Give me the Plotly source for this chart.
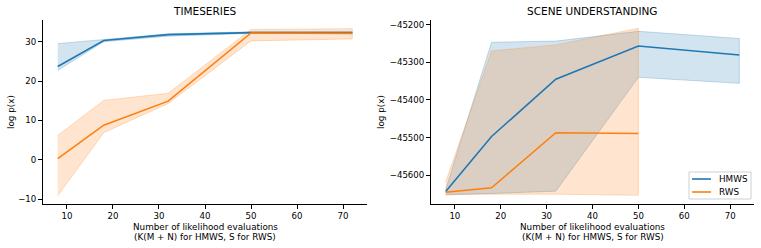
import plotly.graph_objects as go

# ---- data ----
ts_x_hmws = [8, 18, 32, 50, 72]
ts_hmws_mean = [23.7, 30.3, 31.8, 32.3, 32.3]
ts_hmws_lo = [22.7, 30.0, 31.4, 32.1, 32.1]
ts_hmws_hi = [29.5, 30.6, 32.0, 32.5, 32.5]

ts_x_rws = [8, 18, 32, 50, 72]
ts_rws_mean = [0.3, 8.8, 14.9, 32.2, 32.1]
ts_rws_lo = [-9.1, 6.9, 14.3, 30.2, 30.7]
ts_rws_hi = [6.2, 15.1, 16.9, 33.1, 33.3]

su_x_hmws = [8, 18, 32, 50, 72]
su_hmws_mean = [-45643, -45497, -45345, -45257, -45281]
su_hmws_lo = [-45652, -45648, -45642, -45340, -45356]
su_hmws_hi = [-45638, -45247, -45244, -45218, -45237]

su_x_rws = [8, 18, 32, 50]
su_rws_mean = [-45645, -45633, -45487, -45489]
su_rws_lo = [-45650, -45650, -45650, -45653]
su_rws_hi = [-45617, -45270, -45254, -45210]

x_ticks = [10, 20, 30, 40, 50, 60, 70]
x_tick_labels = ["10", "20", "30", "40", "50", "60", "70"]
ts_y_ticks = [-10, 0, 10, 20, 30]
ts_y_tick_labels = ["\u221210", "0", "10", "20", "30"]
su_y_ticks = [-45600, -45500, -45400, -45300, -45200]
su_y_tick_labels = ["\u221245600", "\u221245500", "\u221245400", "\u221245300", "\u221245200"]

series_names = ["HMWS", "RWS"]
titles = ["TIMESERIES", "SCENE UNDERSTANDING"]
x_title_lines = ["Number of likelihood evaluations", "(K(M + N) for HMWS, S for RWS)"]
y_title = "log p(x)"

BLUE = "#1f77b4"
ORANGE = "#ff7f0e"
BLUE_F = "rgba(31,119,180,0.2)"
ORANGE_F = "rgba(255,127,14,0.2)"
BLUE_E = "rgba(31,119,180,0.25)"
ORANGE_E = "rgba(255,127,14,0.25)"

W, H = 761, 248
FONT = "DejaVu Sans"

fig = go.Figure()


def add_band(x, lo, hi, fcol, ecol, xa, ya):
    fig.add_trace(go.Scatter(
        x=list(x) + list(x)[::-1], y=list(hi) + list(lo)[::-1],
        fill="toself", fillcolor=fcol, line=dict(color=ecol, width=1),
        mode="lines", hoverinfo="skip", showlegend=False, xaxis=xa, yaxis=ya))


def add_line(x, mean, color, name, xa, ya):
    fig.add_trace(go.Scatter(
        x=x, y=mean, mode="lines", line=dict(color=color, width=1.6),
        name=name, showlegend=False, xaxis=xa, yaxis=ya))


# bands first, then mean lines on top
add_band(ts_x_hmws, ts_hmws_lo, ts_hmws_hi, BLUE_F, BLUE_E, "x", "y")
add_band(ts_x_rws, ts_rws_lo, ts_rws_hi, ORANGE_F, ORANGE_E, "x", "y")
add_line(ts_x_hmws, ts_hmws_mean, BLUE, series_names[0], "x", "y")
add_line(ts_x_rws, ts_rws_mean, ORANGE, series_names[1], "x", "y")

add_band(su_x_hmws, su_hmws_lo, su_hmws_hi, BLUE_F, BLUE_E, "x2", "y2")
add_band(su_x_rws, su_rws_lo, su_rws_hi, ORANGE_F, ORANGE_E, "x2", "y2")
add_line(su_x_hmws, su_hmws_mean, BLUE, series_names[0], "x2", "y2")
add_line(su_x_rws, su_rws_mean, ORANGE, series_names[1], "x2", "y2")

left_dom = [43 / W, 367 / W]
right_dom = [431 / W, 754 / W]
y_dom = [1 - 204 / H, 1 - 20 / H]

axis_common = dict(
    showline=True, linecolor="black", linewidth=1, ticks="outside", ticklen=4,
    tickcolor="black", tickwidth=1, showgrid=False, zeroline=False,
    tickfont=dict(family=FONT, size=8.6, color="black"), tickmode="array",
)

fig.update_layout(
    width=W, height=H,
    margin=dict(l=0, r=0, t=0, b=0),
    paper_bgcolor="white", plot_bgcolor="white",
    font=dict(family=FONT, color="black"),
    xaxis=dict(domain=left_dom, anchor="y", range=[4.8, 75.2], tickvals=x_ticks,
               ticktext=x_tick_labels, **axis_common),
    yaxis=dict(domain=y_dom, anchor="x", range=[-11.2, 35.5], tickvals=ts_y_ticks,
               ticktext=ts_y_tick_labels, **axis_common),
    xaxis2=dict(domain=right_dom, anchor="y2", range=[4.8, 75.2], tickvals=x_ticks,
                ticktext=x_tick_labels, **axis_common),
    yaxis2=dict(domain=y_dom, anchor="x2", range=[-45676, -45188], tickvals=su_y_ticks,
                ticktext=su_y_tick_labels, **axis_common),
    showlegend=False,
)

for dom, t in zip([left_dom, right_dom], titles):
    cx = (dom[0] + dom[1]) / 2
    fig.add_annotation(text=t, x=cx, y=1 - 11 / H, xref="paper", yref="paper",
                       showarrow=False, font=dict(family=FONT, size=10.5, color="black"),
                       xanchor="center", yanchor="middle")
    for i, line in enumerate(x_title_lines):
        fig.add_annotation(text=line, x=cx, y=1 - (226.5 + 10 * i) / H, xref="paper", yref="paper",
                           showarrow=False, font=dict(family=FONT, size=8.8, color="black"),
                           xanchor="center", yanchor="middle")

for xpix in [11, 381]:
    fig.add_annotation(text=y_title, x=xpix / W, y=1 - 112 / H, xref="paper", yref="paper",
                       showarrow=False, textangle=-90,
                       font=dict(family=FONT, size=8.8, color="black"),
                       xanchor="center", yanchor="middle")

# legend box (right panel, lower right), drawn in paper coordinates
bx0, bx1, by0, by1 = 689, 751, 172, 199


def px(v):
    return v / W


def py(v):
    return 1 - v / H


fig.add_shape(type="rect", xref="paper", yref="paper",
              x0=px(bx0), x1=px(bx1), y0=py(by1), y1=py(by0),
              line=dict(color="#d0d0d0", width=1), fillcolor="rgba(255,255,255,0.85)", layer="above")
for name, col, ypix in zip(series_names, [BLUE, ORANGE], [179, 192]):
    fig.add_shape(type="line", xref="paper", yref="paper",
                  x0=px(692), x1=px(711), y0=py(ypix), y1=py(ypix),
                  line=dict(color=col, width=1.6), layer="above")
    fig.add_annotation(text=name, x=px(717), y=py(ypix), xref="paper", yref="paper",
                       showarrow=False, xanchor="left", yanchor="middle",
                       font=dict(family=FONT, size=8.8, color="black"))

fig.write_html("out.html", config={"displayModeBar": False},
               post_script="document.body.style.margin='0';document.body.style.overflow='hidden';")
